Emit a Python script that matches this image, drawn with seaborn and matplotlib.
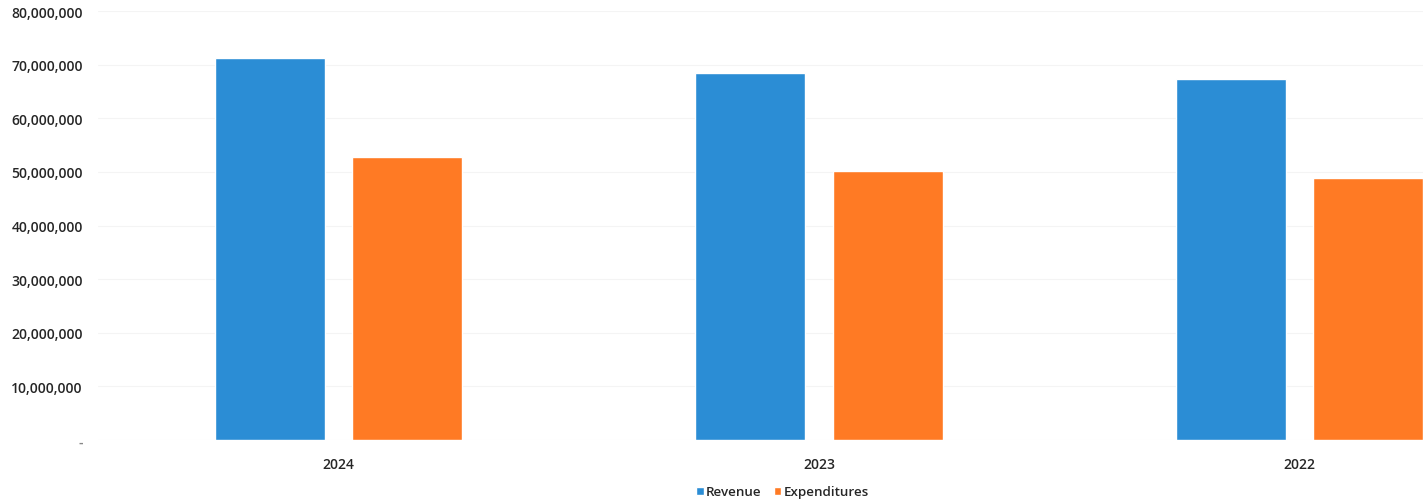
import matplotlib
matplotlib.use("Agg")
import matplotlib.pyplot as plt
import seaborn as sns
import pandas as pd

years = ["2024", "2023", "2022"]
revenue = [71_300_000, 68_500_000, 67_300_000]
expenditures = [52_800_000, 50_200_000, 48_900_000]
series_names = ["Revenue", "Expenditures"]
y_ticks = [0, 10_000_000, 20_000_000, 30_000_000, 40_000_000, 50_000_000, 60_000_000, 70_000_000, 80_000_000]
y_tick_labels = ["-", "10,000,000", "20,000,000", "30,000,000", "40,000,000",
                 "50,000,000", "60,000,000", "70,000,000", "80,000,000"]

df = pd.DataFrame({
    "Year": years * 2,
    "Series": [series_names[0]] * 3 + [series_names[1]] * 3,
    "Value": revenue + expenditures,
})

sns.set_theme(style="white")
plt.rcParams["font.family"] = ["Open Sans", "DejaVu Sans"]

W, H = 1423, 502
fig = plt.figure(figsize=(W / 100, H / 100), dpi=100)
left_px, right_px = 98, 1540
ax = fig.add_axes([left_px / W, (H - 441) / H, (right_px - left_px) / W, (441 - 12) / H])

palette = {"Revenue": "#2B8DD5", "Expenditures": "#FF7A24"}
sns.barplot(data=df, x="Year", y="Value", hue="Series", order=years,
            hue_order=series_names, palette=palette, width=0.572, gap=0.2,
            saturation=1, ax=ax, legend=True)

ax.set_ylim(0, 80_000_000)
ax.set_xlim(-0.5, 2.5)
ax.set_yticks(y_ticks)
ax.set_yticklabels(y_tick_labels)
for t in ax.get_yticks():
    ax.axhline(t, color="#f4f4f4", lw=0.8, zorder=0)
ax.set_axisbelow(True)
ax.set_xlabel("")
ax.set_ylabel("")
for s in ax.spines.values():
    s.set_visible(False)
ax.tick_params(axis="y", length=0, pad=11, labelsize=10, labelcolor="#262626")
ax.tick_params(axis="x", length=0, pad=12, labelsize=10, labelcolor="#262626")
for lab in ax.get_yticklabels() + ax.get_xticklabels():
    lab.set_fontweight("semibold")
ax.get_yticklabels()[0].set_color("#888888")

handles, labels = ax.get_legend_handles_labels()
ax.get_legend().remove()
leg = fig.legend(handles, labels, loc="center", bbox_to_anchor=(0.55, 0.018),
                 ncol=2, frameon=False, handlelength=0.55, handleheight=0.55,
                 handletextpad=0.2, columnspacing=0.9,
                 prop={"size": 9.6, "weight": "semibold"})
for t in leg.get_texts():
    t.set_color("#262626")

fig.savefig("out.png", dpi=100)
